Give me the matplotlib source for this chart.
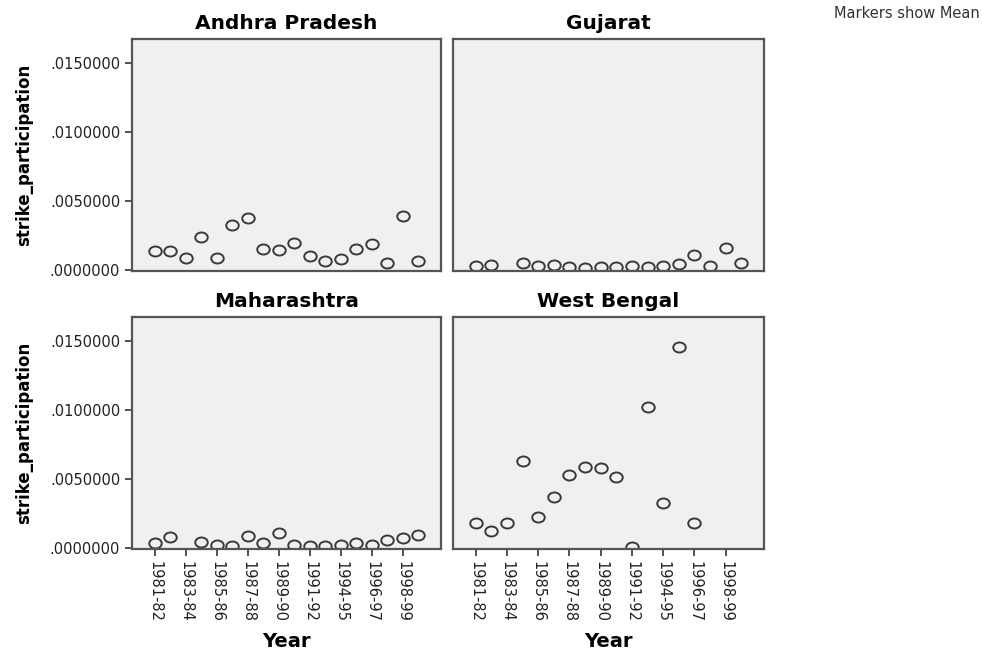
import numpy as np
import matplotlib
matplotlib.use('Agg')
from matplotlib import pyplot as plt
from matplotlib.path import Path
from matplotlib.ticker import FuncFormatter

nan = np.nan

years = ['1981-82', '1982-83', '1983-84', '1984-85', '1985-86', '1986-87',
         '1987-88', '1988-89', '1989-90', '1990-91', '1991-92', '1992-93',
         '1994-95', '1995-96', '1996-97', '1997-98', '1998-99', '1999-00']

andhra = [0.00138, 0.00135, 0.00085, 0.00237, 0.00085, 0.00326, 0.00375, 0.00152, 0.00145,
          0.00198, 0.00101, 0.00067, 0.00082, 0.00150, 0.00186, 0.00053, 0.00390, 0.00067]
gujarat = [0.00029, 0.00036, nan, 0.00048, 0.00029, 0.00036, 0.00020, 0.00017, 0.00024,
           0.00020, 0.00030, 0.00020, 0.00029, 0.00043, 0.00109, 0.00029, 0.00157, 0.00048]
maharashtra = [0.00039, 0.00082, nan, 0.00043, 0.00020, 0.00014, 0.00087, 0.00034, 0.00106,
               0.00020, 0.00014, 0.00014, 0.00020, 0.00034, 0.00020, 0.00058, 0.00072, 0.00092]
west_bengal = [0.00179, 0.00126, 0.00184, 0.00633, 0.00227, 0.00372, 0.00531, 0.00589, 0.00580,
               0.00512, 0.00010, 0.01019, 0.00329, 0.01454, 0.00184, nan, nan, nan]

states = ['Andhra Pradesh', 'Gujarat', 'Maharashtra', 'West Bengal']
series = [andhra, gujarat, maharashtra, west_bengal]

yticks = [0.0, 0.005, 0.010, 0.015]

# slightly squashed circle, like the SPSS mean markers
circ = Path.unit_circle()
oval = Path(circ.vertices * [1.0, 0.8], circ.codes)

fig = plt.figure(figsize=(9.82, 6.51), dpi=100)

W, H = 982.0, 651.0
boxes = [(132, 39, 441, 271), (453, 39, 764, 271),
         (132, 317, 441, 549), (453, 317, 764, 549)]

edge = '#555555'
x = np.arange(len(years))

for i, (name, vals) in enumerate(zip(states, series)):
    x0, y0, x1, y1 = boxes[i]
    ax = fig.add_axes([x0 / W, 1 - y1 / H, (x1 - x0) / W, (y1 - y0) / H])
    ax.set_facecolor('#f0f0f0')
    ax.plot(x, vals, linestyle='none', marker=oval, markersize=9,
            markerfacecolor='none', markeredgecolor='#3a3a3a', markeredgewidth=1.4)
    ax.set_xlim(-1.45, 18.45)
    ax.set_ylim(-0.00007, 0.01674)
    for s in ax.spines.values():
        s.set_color(edge)
        s.set_linewidth(1.6)
    ax.set_title(name, fontsize=14.5, fontweight='bold', pad=7)

    ax.set_xticks(x[::2])
    ax.set_yticks(yticks)
    ax.yaxis.set_major_formatter(FuncFormatter(lambda v, p: ('%.7f' % abs(v))[1:]))
    ax.tick_params(color='#333333', length=5, width=1.2, labelsize=10.5, labelcolor='#222222')

    if i >= 2:
        ax.set_xticklabels(years[::2], rotation=270)
        ax.set_xlabel('Year', fontsize=14, fontweight='bold', labelpad=7)
    else:
        ax.tick_params(axis='x', length=0, labelbottom=False)

    if i % 2 == 0:
        ax.set_ylabel('strike_participation', fontsize=12, fontweight='bold', labelpad=12)
    else:
        ax.tick_params(axis='y', length=0, labelleft=False)

fig.text(0.998, 0.98, 'Markers show Mean', ha='right', va='center', fontsize=10.5, color='#333333')

plt.savefig('out.png', dpi=100)
